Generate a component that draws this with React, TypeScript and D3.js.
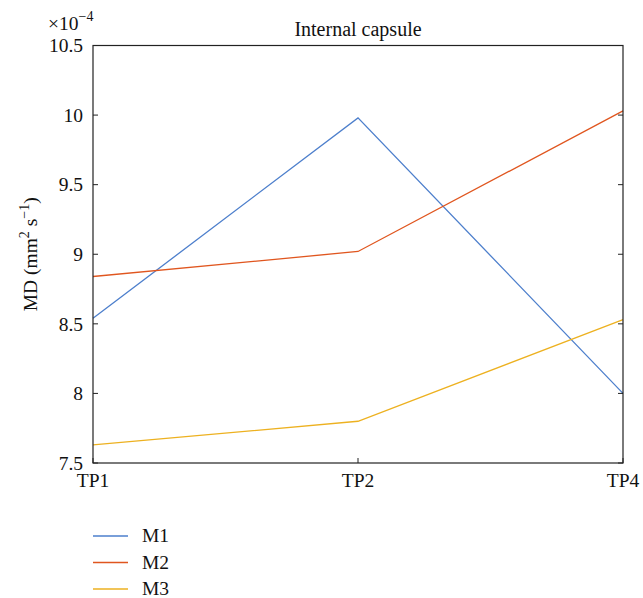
import React from "react";
import * as d3 from "d3";

const categories = ["TP1", "TP2", "TP4"];
const seriesNames = ["M1", "M2", "M3"];
const m1 = [8.54, 9.98, 8.0];
const m2 = [8.84, 9.02, 10.03];
const m3 = [7.63, 7.8, 8.53];
const yTicks = [7.5, 8, 8.5, 9, 9.5, 10, 10.5];
const colors = ["#4d7fcc", "#e0561f", "#edb120"];

export default function App() {
  const W = 643, H = 598;
  const left = 93, right = 623, top = 45.5, bottom = 463;
  const x = d3.scalePoint<string>().domain(categories).range([left, right]);
  const y = d3.scaleLinear().domain([7.5, 10.5]).range([bottom, top]);
  const line = d3.line<number>().x((_, i) => x(categories[i])!).y((d) => y(d));
  const series = [m1, m2, m3];
  const font = "'Liberation Serif', 'DejaVu Serif', serif";
  const fs = 19.5;
  return (
    <svg width={W} height={H} style={{ position: "absolute", left: 0, top: 0 }} fontFamily={font}>
      <rect x={0} y={0} width={W} height={H} fill="#fff" />
      {series.map((s, i) => (
        <path key={i} d={line(s)!} fill="none" stroke={colors[i]} strokeWidth={1.3} />
      ))}
      <rect x={left} y={top} width={right - left} height={bottom - top} fill="none" stroke="#222" strokeWidth={1.2} />
      {yTicks.map((t) => (
        <g key={t}>
          <line x1={left} x2={left + 5} y1={y(t)} y2={y(t)} stroke="#222" />
          <line x1={right} x2={right - 5} y1={y(t)} y2={y(t)} stroke="#222" />
          <text x={left - 10} y={y(t)} dy="0.35em" textAnchor="end" fontSize={fs} fill="#111">{t}</text>
        </g>
      ))}
      {categories.map((c) => (
        <g key={c}>
          <line x1={x(c)!} x2={x(c)!} y1={bottom} y2={bottom - 5} stroke="#222" />
          <text x={x(c)!} y={487} textAnchor="middle" fontSize={fs} fill="#111">{c}</text>
        </g>
      ))}
      <text x={48} y={30} fontSize={fs} fill="#111">×10<tspan dy={-9} fontSize={14}>−4</tspan></text>
      <text x={(left + right) / 2} y={36} textAnchor="middle" fontSize={20} fill="#111">Internal capsule</text>
      <text transform={`translate(37,${(top + bottom) / 2}) rotate(-90)`} textAnchor="middle" fontSize={fs} fill="#111">
        MD (mm<tspan dy={-8} fontSize={14}>2</tspan><tspan dy={8}> s</tspan><tspan dy={-8} fontSize={14}>−1</tspan><tspan dy={8}>)</tspan>
      </text>
      {seriesNames.map((n, i) => (
        <g key={n} transform={`translate(93,${536 + i * 26.5})`}>
          <line x1={0} x2={35} y1={0} y2={0} stroke={colors[i]} strokeWidth={1.3} />
          <text x={49} y={0} dy="0.33em" fontSize={fs} fill="#111">{n}</text>
        </g>
      ))}
    </svg>
  );
}
